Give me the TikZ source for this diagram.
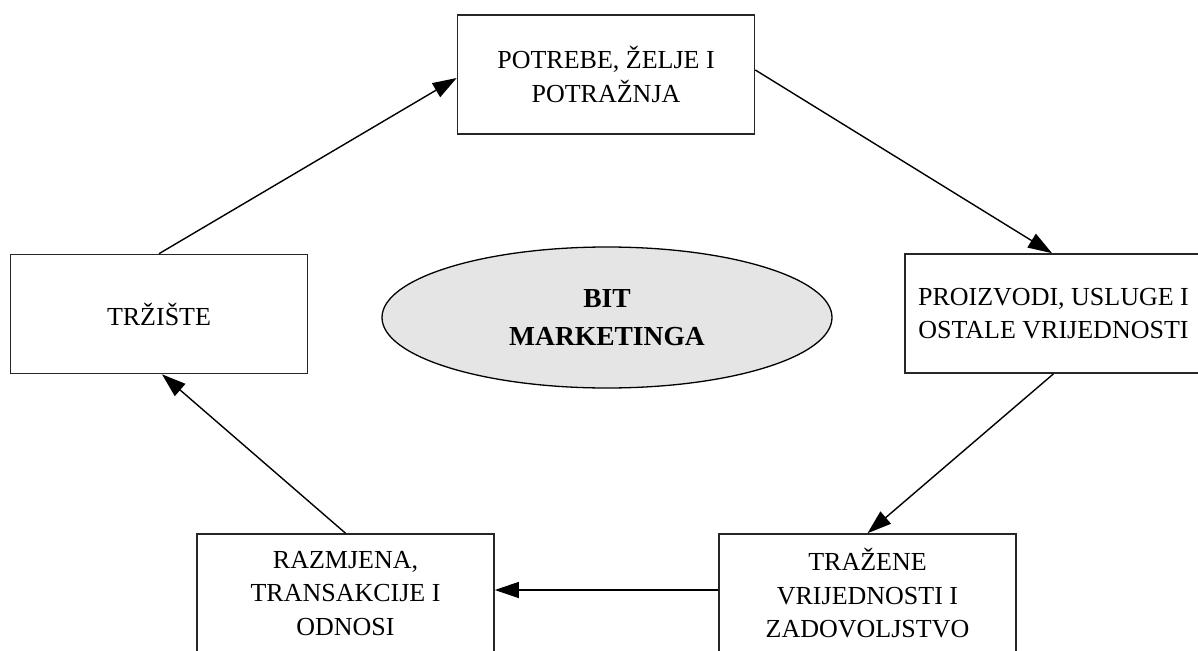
\documentclass[tikz,border=0pt]{standalone}
\usepackage{fontspec}
\setmainfont{Liberation Serif}
\usetikzlibrary{arrows.meta,shapes.geometric}
\begin{document}
\begin{tikzpicture}[x=1pt,y=-1pt,
  boxnode/.style={draw=black!85,line width=1.6pt,minimum width=297pt,minimum height=119pt,
    align=center,inner sep=0pt,font=\fontsize{26}{33.5}\selectfont},
  conn/.style={line width=1.4pt,-{Triangle[length=24pt,width=16pt]}}]
\useasboundingbox (0,0) rectangle (1198,650);
\clip (0,0) rectangle (1198,650);
\node[boxnode] (potrebe) at (606,74.5) {POTREBE, ŽELJE I\\POTRAŽNJA};
\node[boxnode] (trziste) at (159,314) {TRŽIŠTE};
\node[boxnode] (proizvodi) at (1053.5,313.5) {PROIZVODI, USLUGE I\\OSTALE VRIJEDNOSTI};
\node[boxnode] (razmjena) at (345.5,593.5) {RAZMJENA,\\TRANSAKCIJE I\\ODNOSI};
\node[boxnode] (trazene) at (867.5,593.5) {TRAŽENE\\VRIJEDNOSTI I\\ZADOVOLJSTVO};
\node[draw=black,line width=1.3pt,fill=black!10,ellipse,minimum width=450pt,minimum height=141pt,
  inner sep=0pt,align=center,font=\bfseries\fontsize{27.5}{38}\selectfont] (bit) at (607,317.5) {BIT\\MARKETINGA};
\draw[conn] (trziste.north) -- ([yshift=-3.5pt]potrebe.west);
\draw[conn] ([yshift=4.5pt]potrebe.east) -- ([xshift=-1.5pt]proizvodi.north);
\draw[conn] (proizvodi.south) -- (trazene.north);
\draw[conn] ([yshift=3.5pt]trazene.west) -- ([yshift=3.5pt]razmjena.east);
\draw[conn] (razmjena.north) -- ([xshift=3pt]trziste.south);
\end{tikzpicture}
\end{document}
